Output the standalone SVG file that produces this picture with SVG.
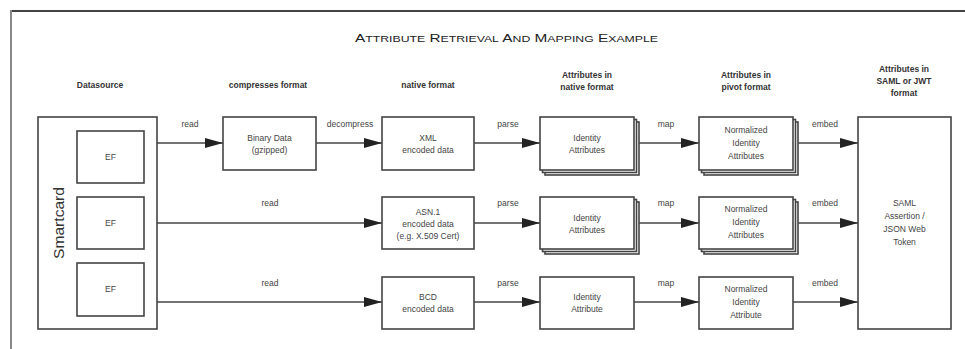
<svg xmlns="http://www.w3.org/2000/svg" width="965" height="349" viewBox="0 0 965 349">
<defs>
<style>
.frame-top{stroke:#444;stroke-width:2;fill:none}
.frame-left{stroke:#888;stroke-width:2;fill:none}
.box{fill:#fff;stroke:#444;stroke-width:1.6}
.conn{stroke:#444;stroke-width:1.6;fill:none;marker-end:url(#arr)}
.hdr{font-family:"Liberation Sans",Arial,sans-serif;font-size:8.5px;font-weight:bold;fill:#333;text-anchor:middle}
.t{font-family:"Liberation Sans",Arial,sans-serif;font-size:8.5px;fill:#444;text-anchor:middle}
.lbl{font-family:"Liberation Sans",Arial,sans-serif;font-size:8.5px;fill:#444;text-anchor:middle}
.title{font-family:"Liberation Sans",Arial,sans-serif;font-size:11.5px;fill:#222}
.sc{font-size:9.2px}
</style>
<marker id="arr" markerWidth="20" markerHeight="12" refX="18" refY="5" orient="auto" markerUnits="userSpaceOnUse">
<path d="M0,0 L18,5 L0,10 Z" fill="#222"/>
</marker>
</defs>
<rect width="965" height="349" fill="#fff"/>
<line class="frame-top" x1="10" y1="11" x2="965" y2="11"/>
<line class="frame-left" x1="11" y1="10" x2="11" y2="349"/>
<text class="title" x="355" y="42" textLength="303" lengthAdjust="spacingAndGlyphs">A<tspan class="sc">TTRIBUTE</tspan> R<tspan class="sc">ETRIEVAL</tspan> A<tspan class="sc">ND</tspan> M<tspan class="sc">APPING</tspan> E<tspan class="sc">XAMPLE</tspan></text>

<g id="headers">
<text class="hdr" x="100" y="88">Datasource</text>
<text class="hdr" x="268" y="88">compresses format</text>
<text class="hdr" x="428" y="88">native format</text>
<text class="hdr" x="587" y="78">Attributes in</text>
<text class="hdr" x="587" y="90">native format</text>
<text class="hdr" x="746" y="78">Attributes in</text>
<text class="hdr" x="746" y="90">pivot format</text>
<text class="hdr" x="904" y="72">Attributes in</text>
<text class="hdr" x="904" y="84">SAML or JWT</text>
<text class="hdr" x="904" y="96">format</text>
</g>

<g id="smartcard">
<rect class="box" x="38" y="117" width="119" height="212"/>
<text x="64" y="223" transform="rotate(-90 64 223)" font-family="'Liberation Sans',Arial,sans-serif" font-size="14" fill="#333" text-anchor="middle" textLength="72" lengthAdjust="spacingAndGlyphs">Smartcard</text>
</g>
<g id="ef1"><rect class="box" x="77" y="131" width="67" height="52"/><text class="t" x="110.5" y="160">EF</text></g>
<g id="ef2"><rect class="box" x="77" y="197" width="67" height="52"/><text class="t" x="110.5" y="226">EF</text></g>
<g id="ef3"><rect class="box" x="77" y="263" width="67" height="53"/><text class="t" x="110.5" y="292">EF</text></g>

<g id="binary"><rect class="box" x="223" y="117" width="93" height="53"/>
<text class="t" x="269.5" y="141">Binary Data</text><text class="t" x="269.5" y="153">(gzipped)</text></g>

<g id="xml"><rect class="box" x="382" y="117" width="92" height="53"/>
<text class="t" x="428" y="141">XML</text><text class="t" x="428" y="153">encoded data</text></g>
<g id="asn1"><rect class="box" x="382" y="197" width="92" height="52"/>
<text class="t" x="428" y="215">ASN.1</text><text class="t" x="428" y="227">encoded data</text><text class="t" x="428" y="239">(e.g. X.509 Cert)</text></g>
<g id="bcd"><rect class="box" x="382" y="277" width="92" height="52"/>
<text class="t" x="428" y="300">BCD</text><text class="t" x="428" y="312">encoded data</text></g>

<g id="idattr1">
<rect class="box" x="545" y="122" width="94" height="53"/>
<rect class="box" x="542.5" y="119.5" width="94" height="53"/>
<rect class="box" x="540" y="117" width="94" height="53"/>
<text class="t" x="587" y="141">Identity</text><text class="t" x="587" y="153">Attributes</text></g>
<g id="idattr2">
<rect class="box" x="545" y="202" width="94" height="52"/>
<rect class="box" x="542.5" y="199.5" width="94" height="52"/>
<rect class="box" x="540" y="197" width="94" height="52"/>
<text class="t" x="587" y="221">Identity</text><text class="t" x="587" y="233">Attributes</text></g>
<g id="idattr3"><rect class="box" x="540" y="277" width="94" height="52"/>
<text class="t" x="587" y="300">Identity</text><text class="t" x="587" y="312">Attribute</text></g>

<g id="norm1">
<rect class="box" x="704" y="122" width="94" height="53"/>
<rect class="box" x="701.5" y="119.5" width="94" height="53"/>
<rect class="box" x="699" y="117" width="94" height="53"/>
<text class="t" x="746" y="133">Normalized</text><text class="t" x="746" y="146">Identity</text><text class="t" x="746" y="159">Attributes</text></g>
<g id="norm2">
<rect class="box" x="704" y="202" width="94" height="52"/>
<rect class="box" x="701.5" y="199.5" width="94" height="52"/>
<rect class="box" x="699" y="197" width="94" height="52"/>
<text class="t" x="746" y="212">Normalized</text><text class="t" x="746" y="225">Identity</text><text class="t" x="746" y="238">Attributes</text></g>
<g id="norm3"><rect class="box" x="699" y="277" width="94" height="52"/>
<text class="t" x="746" y="292">Normalized</text><text class="t" x="746" y="305">Identity</text><text class="t" x="746" y="318">Attribute</text></g>

<g id="saml"><rect class="box" x="858" y="117" width="93" height="212"/>
<text class="t" x="904.5" y="206">SAML</text><text class="t" x="904.5" y="219">Assertion /</text><text class="t" x="904.5" y="232">JSON Web</text><text class="t" x="904.5" y="245">Token</text></g>

<g id="connectors">
<line class="conn" x1="157" y1="143" x2="223" y2="143"/>
<line class="conn" x1="316" y1="143" x2="382" y2="143"/>
<line class="conn" x1="474" y1="143" x2="540" y2="143"/>
<line class="conn" x1="639" y1="143" x2="699" y2="143"/>
<line class="conn" x1="798" y1="143" x2="858" y2="143"/>
<line class="conn" x1="157" y1="223" x2="382" y2="223"/>
<line class="conn" x1="474" y1="223" x2="540" y2="223"/>
<line class="conn" x1="639" y1="223" x2="699" y2="223"/>
<line class="conn" x1="798" y1="223" x2="858" y2="223"/>
<line class="conn" x1="157" y1="302" x2="382" y2="302"/>
<line class="conn" x1="474" y1="302" x2="540" y2="302"/>
<line class="conn" x1="634" y1="302" x2="699" y2="302"/>
<line class="conn" x1="793" y1="302" x2="858" y2="302"/>
<text class="lbl" x="190" y="127">read</text>
<text class="lbl" x="350" y="127">decompress</text>
<text class="lbl" x="508" y="127">parse</text>
<text class="lbl" x="666" y="127">map</text>
<text class="lbl" x="825" y="127">embed</text>
<text class="lbl" x="270" y="206">read</text>
<text class="lbl" x="508" y="206">parse</text>
<text class="lbl" x="666" y="206">map</text>
<text class="lbl" x="825" y="206">embed</text>
<text class="lbl" x="270" y="286">read</text>
<text class="lbl" x="508" y="286">parse</text>
<text class="lbl" x="666" y="286">map</text>
<text class="lbl" x="825" y="286">embed</text>
</g>
</svg>
